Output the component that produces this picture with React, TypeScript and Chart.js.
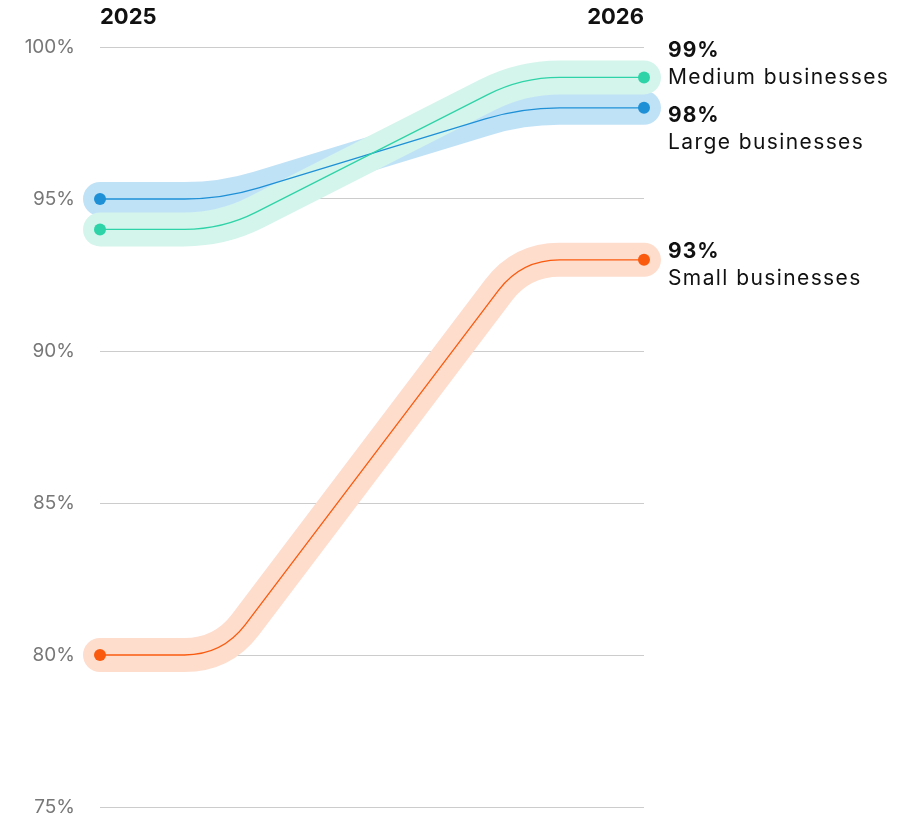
import { useEffect, useRef } from 'react';
import { Chart, registerables } from 'chart.js';

Chart.register(...registerables);

const years = ['2025', '2026'];
const seriesNames = ['Small businesses', 'Large businesses', 'Medium businesses'];
const smallValues = [80, 93];
const largeValues = [95, 98];
const mediumValues = [94, 99];
const yMin = 75;
const yMax = 100;
const yStep = 5;

const lineColors = ['#FA5A0E', '#1E90D6', '#2ED3A7'];
const bandColors = ['#FEDDCD', '#C0E2F7', '#D4F5EC'];
const labelOffsets = [-2, 14, -20];

const FONT = 'Inter, sans-serif';

function tracePath(ctx: CanvasRenderingContext2D, x0: number, y0: number, x1: number, y1: number) {
  const w = x1 - x0;
  const cx0 = x0 + 0.225 * w;
  const cx1 = x1 - 0.225 * w;
  const r = 38;
  const dx = cx1 - cx0;
  const dy = y1 - y0;
  const len = Math.hypot(dx, dy) || 1;
  const ux = dx / len;
  const uy = dy / len;
  ctx.beginPath();
  ctx.moveTo(x0, y0);
  ctx.lineTo(cx0 - r, y0);
  ctx.quadraticCurveTo(cx0, y0, cx0 + ux * r, y0 + uy * r);
  ctx.lineTo(cx1 - ux * r, y1 - uy * r);
  ctx.quadraticCurveTo(cx1, y1, cx1 + r, y1);
  ctx.lineTo(x1, y1);
}

const slopePlugin = {
  id: 'slopePaths',
  beforeDatasetsDraw(chart: any) {
    const ctx = chart.ctx as CanvasRenderingContext2D;
    ctx.save();
    ctx.lineCap = 'round';
    ctx.lineJoin = 'round';
    chart.data.datasets.forEach((ds: any, i: number) => {
      const meta = chart.getDatasetMeta(i);
      const p0 = meta.data[0];
      const p1 = meta.data[1];
      tracePath(ctx, p0.x, p0.y, p1.x, p1.y);
      ctx.strokeStyle = bandColors[i];
      ctx.lineWidth = 34;
      ctx.stroke();
    });
    chart.data.datasets.forEach((ds: any, i: number) => {
      const meta = chart.getDatasetMeta(i);
      const p0 = meta.data[0];
      const p1 = meta.data[1];
      tracePath(ctx, p0.x, p0.y, p1.x, p1.y);
      ctx.strokeStyle = lineColors[i];
      ctx.lineWidth = 1.3;
      ctx.stroke();
    });
    ctx.restore();
  },
  afterDatasetsDraw(chart: any) {
    const ctx = chart.ctx as CanvasRenderingContext2D;
    const x = chart.chartArea.right + 24;
    ctx.save();
    ctx.textAlign = 'left';
    ctx.textBaseline = 'alphabetic';
    chart.data.datasets.forEach((ds: any, i: number) => {
      const meta = chart.getDatasetMeta(i);
      const p1 = meta.data[1];
      const base = p1.y + labelOffsets[i];
      ctx.fillStyle = '#111111';
      (ctx as any).letterSpacing = '1px';
      ctx.font = `bold 21px ${FONT}`;
      ctx.fillText(`${ds.data[1]}%`, x, base);
      (ctx as any).letterSpacing = '1.4px';
      ctx.font = `21px ${FONT}`;
      ctx.fillText(seriesNames[i], x, base + 27);
    });
    (ctx as any).letterSpacing = '0px';
    ctx.restore();
  },
};

export default function App() {
  const ref = useRef<HTMLCanvasElement | null>(null);
  useEffect(() => {
    if (!ref.current) return;
    const values = [smallValues, largeValues, mediumValues];
    const chart = new Chart(ref.current, {
      type: 'line',
      data: {
        labels: years,
        datasets: values.map((v, i) => ({
          label: seriesNames[i],
          data: v,
          showLine: false,
          pointRadius: 6,
          pointHoverRadius: 6,
          pointBorderWidth: 0,
          pointBackgroundColor: lineColors[i],
          borderColor: lineColors[i],
        })),
      },
      options: {
        animation: false,
        responsive: false,
        events: [],
        layout: { padding: { left: 0, right: 269, top: 0, bottom: 8 } },
        plugins: { legend: { display: false }, tooltip: { enabled: false } },
        scales: {
          x: {
            type: 'category',
            position: 'top',
            offset: false,
            grid: { display: false, drawTicks: false },
            border: { display: false },
            ticks: {
              align: 'inner',
              color: '#111111',
              font: { family: FONT, size: 22, weight: 'bold' },
              padding: 16,
            },
            afterFit(scale: any) {
              scale.height = 47;
            },
          },
          y: {
            min: yMin,
            max: yMax,
            grid: { color: '#cccccc', drawTicks: false, lineWidth: 1 },
            border: { display: false },
            ticks: {
              stepSize: yStep,
              color: '#777777',
              font: { family: FONT, size: 19 },
              padding: 25,
              callback: (v: any) => `${v}%`,
            },
            afterFit(scale: any) {
              scale.width = 100;
              scale.paddingTop = 0;
              scale.paddingBottom = 0;
            },
          },
        },
      },
      plugins: [slopePlugin],
    });
    return () => chart.destroy();
  }, []);
  return (
    <div style={{ position: 'absolute', left: 0, top: 0, width: 913, height: 815, background: '#fff' }}>
      <canvas ref={ref} width={913} height={815} style={{ display: 'block' }} />
    </div>
  );
}
